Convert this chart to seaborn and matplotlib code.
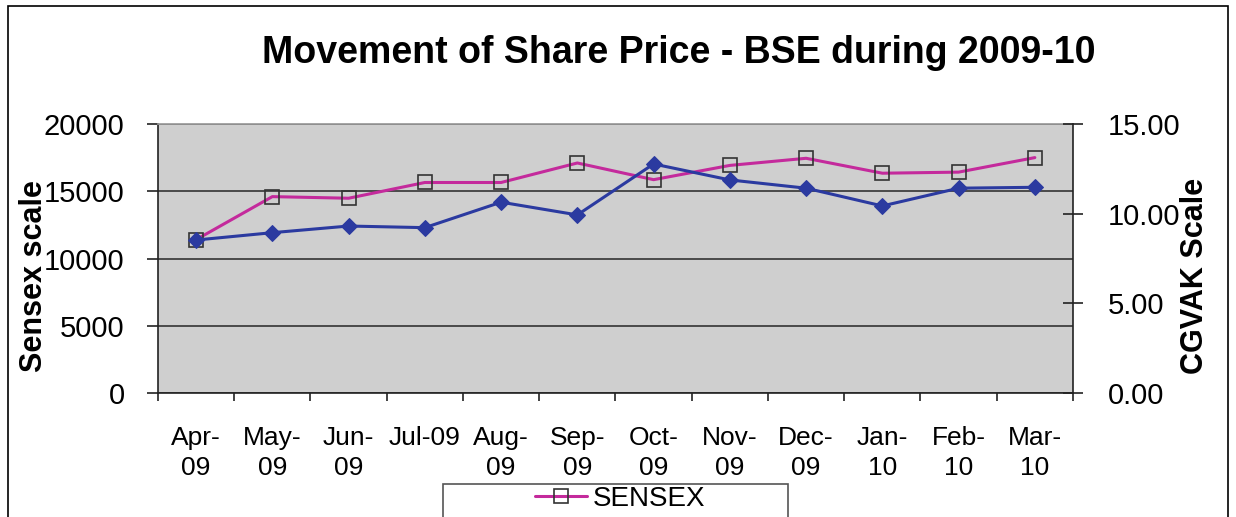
import matplotlib
matplotlib.use("Agg")
import matplotlib.pyplot as plt
import matplotlib.ticker as mticker
from matplotlib.patches import Rectangle
import seaborn as sns

months = ["Apr-\n09", "May-\n09", "Jun-\n09", "Jul-09", "Aug-\n09", "Sep-\n09",
          "Oct-\n09", "Nov-\n09", "Dec-\n09", "Jan-\n10", "Feb-\n10", "Mar-\n10"]
sensex = [11400, 14600, 14480, 15650, 15650, 17100, 15860, 16920, 17450, 16340, 16420, 17500]
cgvak = [8.53, 8.94, 9.31, 9.22, 10.64, 9.93, 12.77, 11.88, 11.42, 10.43, 11.42, 11.47]
pos = list(range(len(months)))

sns.set_theme(style="white")
plt.rcParams["font.family"] = ["Liberation Sans", "DejaVu Sans"]
plt.rcParams["text.color"] = "black"
plt.rcParams["axes.labelcolor"] = "black"
plt.rcParams["xtick.color"] = "black"
plt.rcParams["ytick.color"] = "black"

fig = plt.figure(figsize=(12.36, 5.17), dpi=100)
ax = fig.add_axes([0.1278, 0.2398, 0.7403, 0.5204])
ax.set_facecolor("#cfcfcf")
ax2 = ax.twinx()
ax2.patch.set_visible(False)

sns.lineplot(x=pos, y=sensex, ax=ax, color="#c42a9c", linewidth=2.2,
             marker="s", markersize=10, markerfacecolor="none",
             markeredgecolor="#333333", markeredgewidth=1.2, label="SENSEX", legend=False)
sns.lineplot(x=pos, y=cgvak, ax=ax2, color="#2b3aa0", linewidth=2.2,
             marker="D", markersize=8.5, markerfacecolor="#2b3aa0",
             markeredgecolor="#2b3aa0", label="CGVAK", legend=False)

ax.set_xlim(-0.5, len(months) - 0.5)
ax.set_ylim(0, 20000)
ax2.set_ylim(0, 15)
ax.set_yticks([0, 5000, 10000, 15000, 20000])
ax2.set_yticks([0, 5, 10, 15])
ax2.yaxis.set_major_formatter(mticker.FormatStrFormatter("%.2f"))

ax.set_xticks([p - 0.5 for p in pos] + [len(months) - 0.5])
ax.set_xticklabels([])
ax.set_xticks(pos, minor=True)
ax.set_xticklabels(months, minor=True, fontsize=19, linespacing=1.3)
ax.tick_params(axis="x", which="major", direction="out", length=6, width=1.2,
               color="#222222", bottom=True)
ax.tick_params(axis="x", which="minor", length=0, pad=24, bottom=True)
ax.tick_params(axis="y", direction="out", length=8, width=1.2, color="#222222",
               labelsize=21, pad=16, left=True)
ax2.tick_params(axis="y", direction="inout", length=14, width=1.2, color="#222222",
                labelsize=21, pad=18, right=True)

ax.grid(axis="y", color="#333333", linewidth=1.2)
ax.grid(axis="x", visible=False)
for s in ["left", "bottom"]:
    ax.spines[s].set_color("#222222")
    ax.spines[s].set_linewidth(1.2)
ax.spines["top"].set_color("#9a9a9a")
ax.spines["right"].set_visible(False)
ax2.spines["right"].set_color("#222222")
ax2.spines["right"].set_linewidth(1.2)
for s in ["left", "top", "bottom"]:
    ax2.spines[s].set_visible(False)

ax.set_ylabel("Sensex scale", fontsize=22, fontweight="bold")
ax.yaxis.set_label_coords(-0.119, 0.435)
ax2.set_ylabel("CGVAK Scale", fontsize=22, fontweight="bold")
ax2.yaxis.set_label_coords(1.117, 0.435)

fig.text(0.549, 0.898, "Movement of Share Price - BSE during 2009-10",
         fontsize=27, fontweight="bold", ha="center", va="center")

# legend: box runs past the bottom edge as in the original
h1, l1 = ax.get_legend_handles_labels()
fig.legend(h1, l1, loc="upper center", bbox_to_anchor=(620 / 1236, 1 - 486 / 517),
           fontsize=20, frameon=False, handlelength=1.9, handletextpad=0.2,
           borderpad=0, borderaxespad=0)
fig.patches.append(Rectangle((443 / 1236, -0.1), 345 / 1236, 0.1 + 33 / 517,
                             transform=fig.transFigure, fill=False,
                             edgecolor="#555555", linewidth=1.2))

fig.patches.append(Rectangle((8 / 1236, -0.2), 1220 / 1236, 1.2 - 6 / 517,
                             transform=fig.transFigure, fill=False,
                             edgecolor="black", linewidth=1.2))

fig.savefig("out.png", dpi=100)
